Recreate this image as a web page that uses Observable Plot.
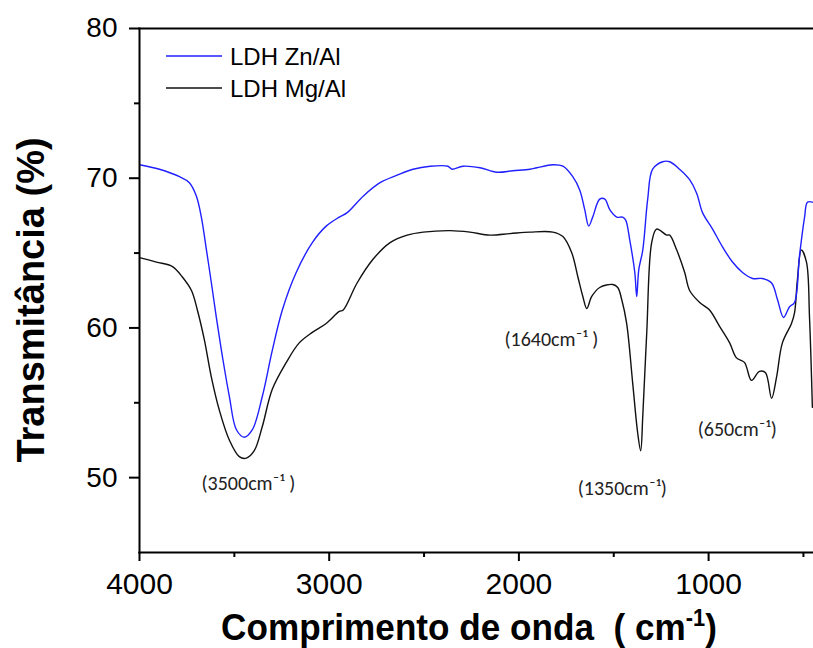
<!DOCTYPE html>
<html>
<head>
<meta charset="utf-8">
<script src="https://cdn.jsdelivr.net/npm/d3@7"></script>
<script src="https://cdn.jsdelivr.net/npm/@observablehq/plot@0.6"></script>
<style>
  html, body { margin: 0; padding: 0; background: #fff; }
  #chart svg { display: block; }
</style>
</head>
<body>
<div id="chart"></div>
<script>
// LDH Zn/Al (blue) — wavenumber (cm-1) and transmittance (%)
const wnZn = [4000,3895,3789,3737,3700,3674,3647,3621,3595,3563,3526,3489,3447,3405,3353,3300,3247,3174,3089,3016,2947,2905,2821,2732,2642,2558,2468,2374,2353,2295,2205,2116,2032,1942,1905,1821,1768,1716,1679,1653,1632,1611,1574,1547,1521,1484,1453,1437,1416,1389,1379,1368,1347,1321,1295,1242,1205,1153,1100,1063,1032,979,926,874,821,768,716,668,637,605,574,547,521,494,479,453];
const tZn  = [70.9,70.6,70.1,69.7,68.8,67.4,65.2,63.0,60.7,58.1,55.4,53.2,52.7,53.2,55.4,58.5,61.2,63.7,65.7,66.8,67.4,67.7,68.8,69.7,70.2,70.6,70.8,70.8,70.6,70.8,70.7,70.4,70.5,70.6,70.7,70.9,70.8,70.1,69.2,67.9,66.8,67.4,68.6,68.6,67.9,67.4,67.4,67.2,65.9,63.7,62.1,63.9,65.2,68.6,70.6,71.1,71.1,70.6,69.9,69.0,67.7,66.6,65.4,64.4,63.7,63.3,63.3,63.0,61.9,60.7,61.4,61.7,64.8,67.4,68.4,68.4];

// LDH Mg/Al (black)
const wnMg = [4000,3911,3826,3774,3726,3695,3658,3621,3579,3526,3474,3437,3395,3353,3300,3226,3158,3089,3016,2947,2926,2853,2768,2679,2589,2505,2363,2258,2153,2047,1942,1821,1768,1721,1689,1663,1642,1616,1574,1505,1479,1458,1432,1400,1374,1358,1347,1326,1300,1274,1221,1205,1168,1126,1100,1047,995,942,889,853,811,774,732,700,668,642,611,563,547,532,511,484,468,453];
const tMg  = [64.7,64.4,64.1,63.4,62.5,61.2,59.2,56.7,54.5,52.5,51.4,51.3,51.8,53.4,55.9,57.7,59.0,59.7,60.3,61.1,61.2,63.0,64.6,65.7,66.2,66.4,66.5,66.4,66.2,66.3,66.4,66.4,66.1,65.0,63.4,62.1,61.3,62.1,62.7,62.9,62.7,61.9,60.3,56.3,53.0,51.8,54.1,59.7,65.7,66.6,66.2,66.2,65.2,63.7,62.5,61.7,61.2,60.1,59.0,58.0,57.7,56.5,57.1,57.0,55.3,56.7,59.0,60.3,61.0,63.2,65.2,64.4,60.7,54.7];

// Peak annotations
const annLabels = ["(3500cm\u207B\u00B9 )", "(1640cm\u207B\u00B9 )", "(1350cm\u207B\u00B9)", "(650cm\u207B\u00B9)"];
const annWn     = [3426, 1829, 1455, 849];
const annT      = [49.6, 59.2, 49.3, 53.2];

// Axis ticks
const xTicks = [4000, 3000, 2000, 1000];
const xMinor = [3500, 2500, 1500, 500];
const yTicks = [50, 60, 70, 80];
const yMinor = [55, 65, 75];

// Legend
const seriesNames  = ["LDH Zn/Al", "LDH Mg/Al"];
const seriesColors = ["#2020ff", "#111111"];

const zn = wnZn.map((w, i) => ({wn: w, t: tZn[i]}));
const mg = wnMg.map((w, i) => ({wn: w, t: tMg[i]}));
const ann = annLabels.map((l, i) => ({label: l, wn: annWn[i], t: annT[i]}));

const chart = Plot.plot({
  width: 813,
  height: 648,
  marginLeft: 139,
  marginRight: 0,
  marginTop: 28,
  marginBottom: 96,
  x: {domain: [4000, 447]},
  y: {domain: [45, 80]},
  style: {fontFamily: "'Liberation Sans', Arial, sans-serif", color: "#000", background: "#fff"},
  marks: [
    Plot.axisX({ticks: xTicks, tickSize: 9, tickPadding: 11, fontSize: 30, label: null, tickFormat: "d", strokeWidth: 2}),
    Plot.axisX({ticks: xMinor, tickSize: 5, text: null, label: null, strokeWidth: 2}),
    Plot.axisY({ticks: yTicks, tickSize: 10, tickPadding: 12, fontSize: 28, label: null, tickFormat: "d", strokeWidth: 2}),
    Plot.axisY({ticks: yMinor, tickSize: 5, text: null, label: null, strokeWidth: 2}),
    Plot.line(mg, {x: "wn", y: "t", stroke: seriesColors[1], strokeWidth: 1.4, curve: "catmull-rom", clip: true}),
    Plot.line(zn, {x: "wn", y: "t", stroke: seriesColors[0], strokeWidth: 1.4, curve: "catmull-rom", clip: true}),
    Plot.frame({anchor: "left", strokeWidth: 2}),
    Plot.frame({anchor: "bottom", strokeWidth: 2}),
    Plot.frame({anchor: "top", strokeWidth: 2}),
    Plot.text(ann, {x: "wn", y: "t", text: "label", fontSize: 20, fontFamily: "Carlito, Lato, sans-serif", fill: "#222"})
  ]
});

document.getElementById("chart").appendChild(chart);

const svg = d3.select(chart);

// Legend
const leg = svg.append("g");
seriesNames.forEach((name, i) => {
  const yy = 56 + i * 32;
  leg.append("line").attr("x1", 166).attr("x2", 222).attr("y1", yy).attr("y2", yy)
    .attr("stroke", seriesColors[i]).attr("stroke-width", 1.4);
  leg.append("text").attr("x", 230).attr("y", yy + 9)
    .attr("text-anchor", "start")
    .attr("font-size", 24).attr("font-family", "'Liberation Sans', Arial, sans-serif")
    .attr("fill", "#000").text(name);
});

// Y axis title
svg.append("text")
  .attr("transform", "translate(44,300) rotate(-90)")
  .attr("text-anchor", "middle")
  .attr("font-size", 38).attr("font-weight", "bold")
  .attr("font-family", "'Liberation Sans', Arial, sans-serif")
  .attr("fill", "#000")
  .text("Transmitância (%)");

// X axis title
const xt = svg.append("g").attr("transform", "translate(469,640) scale(0.95,1)")
  .append("text")
  .attr("text-anchor", "middle")
  .attr("font-size", 37).attr("font-weight", "bold")
  .attr("font-family", "'Liberation Sans', Arial, sans-serif")
  .attr("fill", "#000");
xt.append("tspan").text("Comprimento de onda  ( cm");
xt.append("tspan").attr("dy", -14).attr("font-size", 23).text("-1");
xt.append("tspan").attr("dy", 14).text(")");
</script>
</body>
</html>
